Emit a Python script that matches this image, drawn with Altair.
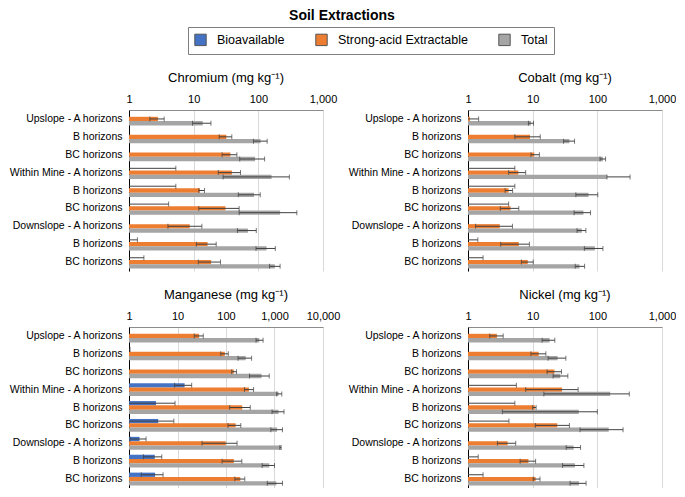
import altair as alt
import pandas as pd

CATEGORIES = ["Upslope - A horizons", "B horizons", "BC horizons",
              "Within Mine - A horizons", "B horizons", "BC horizons",
              "Downslope - A horizons", "B horizons", "BC horizons"]
SERIES = ["Bioavailable", "Strong-acid Extractable", "Total"]
COLORS = ["#4472C4", "#ED7D31", "#A5A5A5"]

ELEMENTS = ["Chromium", "Cobalt", "Manganese", "Nickel"]
TITLES = {"Chromium": "Chromium (mg kg\u207b\u00b9)", "Cobalt": "Cobalt (mg kg\u207b\u00b9)",
          "Manganese": "Manganese (mg kg\u207b\u00b9)", "Nickel": "Nickel (mg kg\u207b\u00b9)"}
X_MAX = {"Chromium": 1000, "Cobalt": 1000, "Manganese": 10000, "Nickel": 1000}
TICKS = {"Chromium": [1, 10, 100, 1000], "Cobalt": [1, 10, 100, 1000],
         "Manganese": [1, 10, 100, 1000, 10000], "Nickel": [1, 10, 100, 1000]}

# mean values (values below 1 fall left of the log axis and are not visible)
VALUE = {
    "Chromium": {
        "Bioavailable": [0.3, 0.3, 0.3, 0.5, 0.5, 0.5, 0.3, 0.4, 0.4],
        "Strong-acid Extractable": [2.8, 32, 37, 39, 12.5, 31, 8.7, 16.4, 18.6],
        "Total": [13.8, 108, 89, 160, 86, 217, 69, 134, 180],
    },
    "Cobalt": {
        "Bioavailable": [0.3, 0.3, 0.3, 0.5, 0.5, 0.5, 0.3, 0.4, 0.4],
        "Strong-acid Extractable": [1.07, 9.1, 10.6, 6.0, 4.25, 4.55, 3.1, 6.1, 8.4],
        "Total": [9.4, 37, 122, 141, 73, 61, 57.5, 91.6, 53],
    },
    "Manganese": {
        "Bioavailable": [0.3, 0.5, 0.3, 14, 3.6, 4.0, 1.65, 3.4, 3.45],
        "Strong-acid Extractable": [27.9, 94.6, 145, 297, 216, 158, 99, 145, 197],
        "Total": [485, 255, 540, 1213, 1213, 1130, 1330, 780, 1090],
    },
    "Nickel": {
        "Bioavailable": [0.3, 0.3, 0.3, 0.5, 0.5, 0.5, 0.3, 0.4, 0.4],
        "Strong-acid Extractable": [2.8, 12.4, 21.7, 28.5, 10.8, 24, 4.1, 8.6, 11.1],
        "Total": [18.3, 24.3, 26.7, 158, 51.6, 150, 43, 45, 52],
    },
}
# lower end of error bar (0 = below the axis minimum)
LOW = {
    "Chromium": {
        "Bioavailable": [0, 0, 0, 0, 0, 0, 0, 0, 0],
        "Strong-acid Extractable": [2.1, 24.8, 27.5, 24, 12, 12, 4, 11, 11.8],
        "Total": [9.6, 84, 51.5, 28.5, 49, 50.5, 47.5, 92, 149],
    },
    "Cobalt": {
        "Bioavailable": [0, 0, 0, 0, 0, 0, 0, 0, 0],
        "Strong-acid Extractable": [0, 5.3, 9.4, 4.25, 3.75, 3.16, 1.31, 3.2, 6.7],
        "Total": [8.6, 30, 110, 141, 46.5, 43.7, 48.5, 63, 45.5],
    },
    "Manganese": {
        "Bioavailable": [0, 0, 0, 8.7, 0, 0, 1.05, 1.99, 1.79],
        "Strong-acid Extractable": [22.2, 77.9, 131, 240, 119, 110, 32, 83, 152],
        "Total": [416, 177, 305, 1110, 890, 840, 1290, 557, 710],
    },
    "Nickel": {
        "Bioavailable": [0, 0, 0, 0, 0, 0, 0, 0, 0],
        "Strong-acid Extractable": [2.17, 9.4, 16.7, 7.8, 10, 11, 2.85, 6.4, 10.2],
        "Total": [14, 17.3, 20.7, 14.9, 3.4, 54, 33, 29, 37.9],
    },
}
# upper end of error bar
HIGH = {
    "Chromium": {
        "Bioavailable": [0.5, 0.5, 0.5, 5.3, 5.3, 4.1, 0.5, 1.35, 1.7],
        "Strong-acid Extractable": [3.5, 38.9, 46.6, 53, 14.7, 50.5, 13.4, 22.3, 26],
        "Total": [18.5, 137, 125, 302, 107, 394, 93, 183, 217],
    },
    "Cobalt": {
        "Bioavailable": [0.5, 0.5, 0.5, 5.3, 5.3, 4.25, 0.5, 1.42, 1.71],
        "Strong-acid Extractable": [1.46, 13.1, 12.7, 7.8, 4.9, 6.1, 4.87, 8.9, 10.2],
        "Total": [10.3, 44.4, 134, 321, 101.6, 78.5, 66.5, 122, 63.5],
    },
    "Manganese": {
        "Bioavailable": [0.5, 1.05, 0.5, 19.6, 8.9, 8.4, 2.25, 4.74, 5.04],
        "Strong-acid Extractable": [34, 111.5, 165, 370, 316, 202, 169, 212, 244],
        "Total": [582, 337, 779, 1415, 1570, 1460, 1370, 1000, 1460],
    },
    "Nickel": {
        "Bioavailable": [0.5, 0.5, 0.5, 5.6, 5.3, 4.3, 0.5, 1.44, 1.71],
        "Strong-acid Extractable": [3.5, 16, 27.9, 50.5, 11.3, 37, 5.47, 11.1, 13],
        "Total": [22, 32.6, 35, 312, 100, 250, 55, 62, 67],
    },
}

KEYS = [f"{i}|{c}" for i, c in enumerate(CATEGORIES)]

rows = []
for el in ELEMENTS:
    for s in SERIES:
        for i, k in enumerate(KEYS):
            rows.append({"element": el, "key": k, "series": s,
                         "value": VALUE[el][s][i], "lo": LOW[el][s][i], "hi": HIGH[el][s][i]})
df = pd.DataFrame(rows)
df["lo_draw"] = df["lo"].clip(lower=1)

FONT = "Liberation Sans"
ERR = "#404040"


def panel(el, w=194, h=161):
    d = df[df["element"] == el]
    xscale = alt.Scale(type="log", domain=[1, X_MAX[el]], clamp=True)
    yenc = alt.Y("key:N", sort=KEYS, title=None,
                 scale=alt.Scale(paddingInner=0.28, paddingOuter=0.14),
                 axis=alt.Axis(labelExpr="split(datum.label, '|')[1]", ticks=False,
                               domainColor="#000000", labelFontSize=10.5, labelPadding=7,
                               labelColor="#000000", labelFont=FONT, labelLimit=300))
    yoff = alt.YOffset("series:N", sort=SERIES,
                       scale=alt.Scale(paddingInner=0, paddingOuter=0))
    bars = alt.Chart(d).mark_bar().encode(
        x=alt.X("value:Q", scale=xscale, title=None,
                axis=alt.Axis(orient="top", format=",", values=TICKS[el], ticks=False,
                              grid=True, gridColor="#d9d9d9", domainColor="#8c8c8c",
                              labelFontSize=11, labelColor="#000000", labelFont=FONT,
                              labelPadding=6, labelFlush=False, labelOverlap=False)),
        x2=alt.datum(1),
        y=yenc,
        yOffset=yoff,
        color=alt.Color("series:N", scale=alt.Scale(domain=SERIES, range=COLORS),
                        legend=alt.Legend(title=None, orient="none", direction="horizontal",
                                          legendX=59, legendY=-83)),
    )
    errd = d[d["hi"] > 1]
    rules = alt.Chart(errd).mark_rule(color=ERR, strokeWidth=1).encode(
        x=alt.X("lo_draw:Q", scale=xscale), x2="hi:Q", y=yenc, yOffset=yoff)
    caps_hi = alt.Chart(errd).mark_tick(color=ERR, thickness=1, size=5, orient="vertical").encode(
        x=alt.X("hi:Q", scale=xscale), y=yenc, yOffset=yoff)
    caps_lo = alt.Chart(errd[errd["lo"] >= 1]).mark_tick(color=ERR, thickness=1, size=5,
                                                         orient="vertical").encode(
        x=alt.X("lo:Q", scale=xscale), y=yenc, yOffset=yoff)
    return alt.layer(bars, rules, caps_lo, caps_hi).properties(
        width=w, height=h,
        title=alt.Title(TITLES[el], fontSize=13, fontWeight="normal", font=FONT,
                        color="#000000", offset=8))


top = alt.hconcat(panel("Chromium"), panel("Cobalt"), spacing=10)
bottom = alt.hconcat(panel("Manganese"), panel("Nickel"), spacing=7)
chart = alt.vconcat(top, bottom, spacing=18).properties(
    title=alt.Title("Soil Extractions", fontSize=14, fontWeight="bold", font=FONT,
                    color="#000000", anchor="middle"),
    padding=0,
).configure_view(stroke=None).configure_legend(
    strokeColor="#7f7f7f", padding=6, labelFontSize=12.5, labelFont=FONT,
    labelColor="#000000", symbolType="square", symbolSize=130,
    symbolStrokeColor="#555555", symbolStrokeWidth=1, columnPadding=28,
    labelOffset=10,
)

chart.save("out.html", embed_options={"renderer": "svg", "actions": False})
